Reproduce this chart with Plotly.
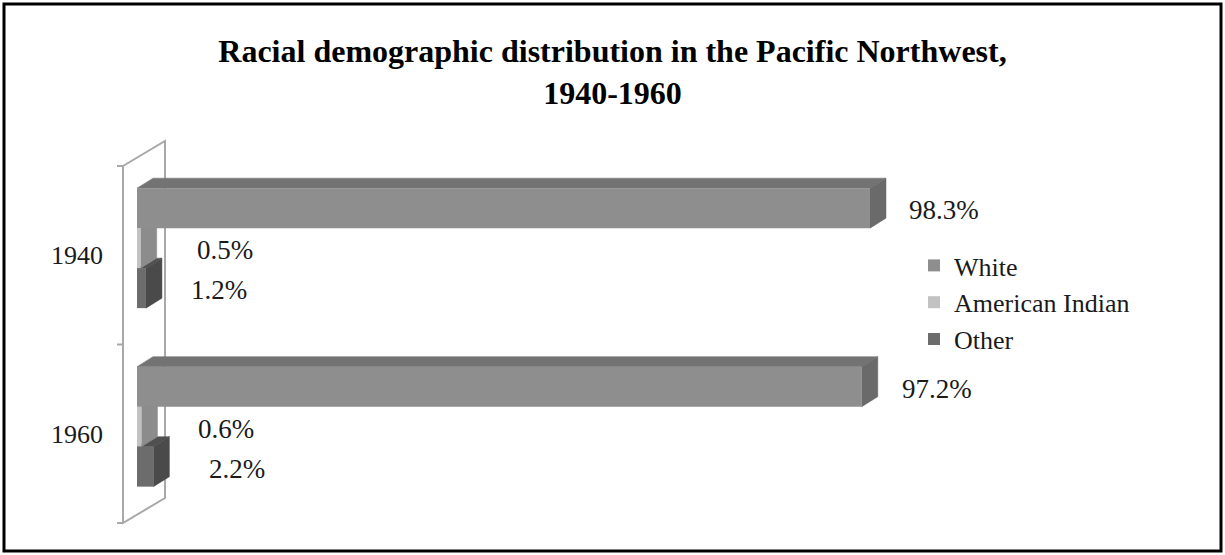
import plotly.graph_objects as go

# ---------------- data ----------------
years = ["1940", "1960"]
series = ["White", "American Indian", "Other"]
white = [98.3, 97.2]
american_indian = [0.5, 0.6]
other = [1.2, 2.2]
values = {"White": white, "American Indian": american_indian, "Other": other}
title_text = "Racial demographic distribution in the Pacific Northwest,<br>1940-1960"

# ---------------- styles ----------------
W, H = 1225, 555
FONT = "Liberation Serif"
front_colors = {"White": "#8e8e8e", "American Indian": "#c2c2c2", "Other": "#6c6c6c"}
top_colors = {"White": "#737373", "American Indian": "#a0a0a0", "Other": "#505050"}
side_colors = {"White": "#6a6a6a", "American Indian": "#8c8c8c", "Other": "#4a4a4a"}
label_xshift = {"White": [37, 38], "American Indian": [54, 55], "Other": [43, 54]}

# pixel geometry of the plot (layout only)
X_DOM_PX = (110, 1000)
ZERO_PX = 137.0
PPU = (870.0 - 137.0) / 98.3           # pixels per percent
Y_DOM_PX = (135, 525)                  # top, bottom
CAT_TOP_PX = 166.0
PPC = 178.5                            # pixels per category
BAR_W = 40.0 / PPC
GROUP_OFF = -0.376
DX = 16.0 / PPU                        # bar depth
DY = 10.0 / PPC
WALL_FRONT = (123.0 - ZERO_PX) / PPU
WALL_BACK = (165.0 - ZERO_PX) / PPU
WALL_DY = 25.0 / PPC
TICK_LEN = 6.0 / PPU

x_range = [(X_DOM_PX[0] - ZERO_PX) / PPU, (X_DOM_PX[1] - ZERO_PX) / PPU]
y_top_val = -0.5 + (Y_DOM_PX[0] - CAT_TOP_PX) / PPC
y_bot_val = -0.5 + (Y_DOM_PX[1] - CAT_TOP_PX) / PPC

fig = go.Figure()
ypos = list(range(len(years)))
offsets = {s: GROUP_OFF + k * BAR_W for k, s in enumerate(series)}

for s in series:
    fig.add_trace(go.Bar(
        name=s, orientation="h", x=values[s], y=ypos,
        width=BAR_W, offset=offsets[s],
        marker=dict(color=front_colors[s], line=dict(width=0)),
        hoverinfo="x+name",
    ))

shapes = []
# wall (left side panel) with tick marks
wall_path = (
    f"M{WALL_FRONT},{-0.5} L{WALL_BACK},{-0.5 - WALL_DY} "
    f"L{WALL_BACK},{1.5 - WALL_DY} L{WALL_FRONT},{1.5} Z"
)
shapes.append(dict(type="path", xref="x", yref="y", path=wall_path,
                   line=dict(color="#a8a8a8", width=2), fillcolor="rgba(0,0,0,0)",
                   layer="below"))
for tv in [-0.5, 0.5, 1.5]:
    shapes.append(dict(type="line", xref="x", yref="y",
                       x0=WALL_FRONT - TICK_LEN, x1=WALL_FRONT, y0=tv, y1=tv,
                       line=dict(color="#a8a8a8", width=2), layer="below"))

# 3-D faces (top and side) of each bar, lower bars first
for i in ypos:
    for s in reversed(series):
        v = values[s][i]
        top = i + offsets[s]
        bot = top + BAR_W
        top_path = f"M0,{top} L{v},{top} L{v + DX},{top - DY} L{DX},{top - DY} Z"
        side_path = f"M{v},{top} L{v + DX},{top - DY} L{v + DX},{bot - DY} L{v},{bot} Z"
        shapes.append(dict(type="path", xref="x", yref="y", path=top_path,
                           fillcolor=top_colors[s], line=dict(color=top_colors[s], width=0.5),
                           layer="below"))
        shapes.append(dict(type="path", xref="x", yref="y", path=side_path,
                           fillcolor=side_colors[s], line=dict(color=side_colors[s], width=0.5),
                           layer="below"))

# outer border
shapes.append(dict(type="rect", xref="paper", yref="paper",
                   x0=4 / W, x1=1221 / W, y0=1 - 551 / H, y1=1 - 4 / H,
                   line=dict(color="black", width=3), fillcolor="rgba(0,0,0,0)"))

annotations = []
for s in series:
    for i in ypos:
        v = values[s][i]
        annotations.append(dict(
            x=v, y=i + offsets[s] + BAR_W / 2, xref="x", yref="y",
            text=f"{v:.1f}%", showarrow=False, xanchor="left", yanchor="middle",
            xshift=label_xshift[s][i], yshift=-2,
            font=dict(family=FONT, size=27, color="#1a1a1a"),
        ))

fig.update_layout(
    template="none",
    width=W, height=H, autosize=False,
    margin=dict(l=0, r=0, t=0, b=0, pad=0),
    paper_bgcolor="white", plot_bgcolor="rgba(0,0,0,0)",
    barmode="group",
    showlegend=True,
    title=dict(text=title_text, x=0.5, xanchor="center", xref="paper",
               y=1 - 62 / H, yanchor="top", yref="container",
               font=dict(family=FONT, size=32, color="black", weight="bold")),
    xaxis=dict(domain=[X_DOM_PX[0] / W, X_DOM_PX[1] / W], range=x_range,
               visible=False, fixedrange=True),
    yaxis=dict(domain=[1 - Y_DOM_PX[1] / H, 1 - Y_DOM_PX[0] / H],
               range=[y_bot_val, y_top_val], tickmode="array",
               tickvals=ypos, ticktext=years, ticks="", showline=False,
               showgrid=False, zeroline=False, automargin=False,
               anchor="free", position=123 / W, ticklabelstandoff=20,
               tickfont=dict(family=FONT, size=26, color="#1a1a1a"),
               fixedrange=True),
    legend=dict(x=914 / W, y=1 - 242 / H, xanchor="left", yanchor="top",
                traceorder="normal", itemwidth=30,
                font=dict(family=FONT, size=26, color="#1a1a1a"),
                bgcolor="rgba(0,0,0,0)", borderwidth=0),
    shapes=shapes,
    annotations=annotations,
)

fig.write_html("out.html", config={"displayModeBar": False},
               post_script="document.body.style.margin='0px';document.body.style.overflow='hidden';")
